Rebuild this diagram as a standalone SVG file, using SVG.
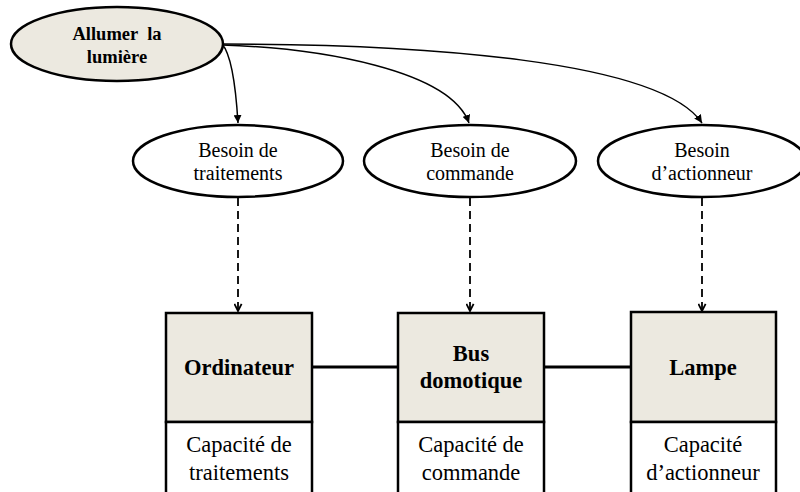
<svg xmlns="http://www.w3.org/2000/svg" width="800" height="492" viewBox="0 0 800 492">
<defs>
<marker id="solid" viewBox="0 0 10 10" refX="10" refY="5" markerWidth="8" markerHeight="8" markerUnits="userSpaceOnUse" orient="auto">
<path d="M0,0 L10,5 L0,10 Z" fill="#000"/>
</marker>
<marker id="open" viewBox="0 0 10 10" refX="9" refY="5" markerWidth="9" markerHeight="9" markerUnits="userSpaceOnUse" orient="auto">
<path d="M1,1 L9,5 L1,9" fill="none" stroke="#000" stroke-width="2"/>
</marker>
</defs>
<style>
.node{stroke:#000;stroke-width:2.5}
.fill{fill:#ECE9E0}
.white{fill:#fff}
.t{font-family:"Liberation Serif",serif;fill:#000;text-anchor:middle}
.b{font-weight:bold}
.curve{fill:none;stroke:#000;stroke-width:1.5}
.dash{fill:none;stroke:#000;stroke-width:1.8;stroke-dasharray:8,5}
.link{fill:none;stroke:#000;stroke-width:3}
</style>
<rect width="800" height="492" fill="#fff"/>
<g id="connectors">
<path class="curve" d="M222,44 C232,55 236,90 238,123" marker-end="url(#solid)"/>
<path class="curve" d="M222,45 C320,48 450,70 469,123" marker-end="url(#solid)"/>
<path class="curve" d="M222,44 C420,44 660,60 702,123" marker-end="url(#solid)"/>
<path class="dash" d="M238,198 L238,311" marker-end="url(#open)"/>
<path class="dash" d="M470,198 L470,311" marker-end="url(#open)"/>
<path class="dash" d="M702,198 L702,311" marker-end="url(#open)"/>
<path class="link" d="M312,367 L398,367"/>
<path class="link" d="M544,367 L631,367"/>
</g>
<g id="allumer">
<ellipse class="node fill" cx="117" cy="44" rx="106" ry="37"/>
<text class="t b" x="117" y="40" font-size="18.5" style="white-space:pre">Allumer  la</text>
<text class="t b" x="117" y="63" font-size="18.5">lumière</text>
</g>
<g id="besoin-traitements">
<ellipse class="node white" cx="238" cy="161" rx="105" ry="36"/>
<text class="t" x="238" y="157" font-size="20">Besoin de</text>
<text class="t" x="238" y="180" font-size="20">traitements</text>
</g>
<g id="besoin-commande">
<ellipse class="node white" cx="470" cy="161" rx="106" ry="36"/>
<text class="t" x="470" y="157" font-size="20">Besoin de</text>
<text class="t" x="470" y="180" font-size="20">commande</text>
</g>
<g id="besoin-actionneur">
<ellipse class="node white" cx="702" cy="161" rx="104" ry="36"/>
<text class="t" x="702" y="157" font-size="20">Besoin</text>
<text class="t" x="702" y="180" font-size="20">d’actionneur</text>
</g>
<g id="ordinateur">
<rect class="node fill" x="166" y="313" width="146" height="109"/>
<rect class="node white" x="166" y="422" width="146" height="80"/>
<text class="t b" x="239" y="375" font-size="22.5">Ordinateur</text>
<text class="t" x="239" y="452" font-size="22.5">Capacité de</text>
<text class="t" x="239" y="480" font-size="22.5">traitements</text>
</g>
<g id="bus">
<rect class="node fill" x="398" y="313" width="146" height="109"/>
<rect class="node white" x="398" y="422" width="146" height="80"/>
<text class="t b" x="471" y="361" font-size="22.5">Bus</text>
<text class="t b" x="471" y="388" font-size="22.5">domotique</text>
<text class="t" x="471" y="452" font-size="22.5">Capacité de</text>
<text class="t" x="471" y="480" font-size="22.5">commande</text>
</g>
<g id="lampe">
<rect class="node fill" x="631" y="312" width="145" height="110"/>
<rect class="node white" x="631" y="422" width="145" height="80"/>
<text class="t b" x="703" y="375" font-size="22.5">Lampe</text>
<text class="t" x="703" y="452" font-size="22.5">Capacité</text>
<text class="t" x="703" y="480" font-size="22.5">d’actionneur</text>
</g>
</svg>
